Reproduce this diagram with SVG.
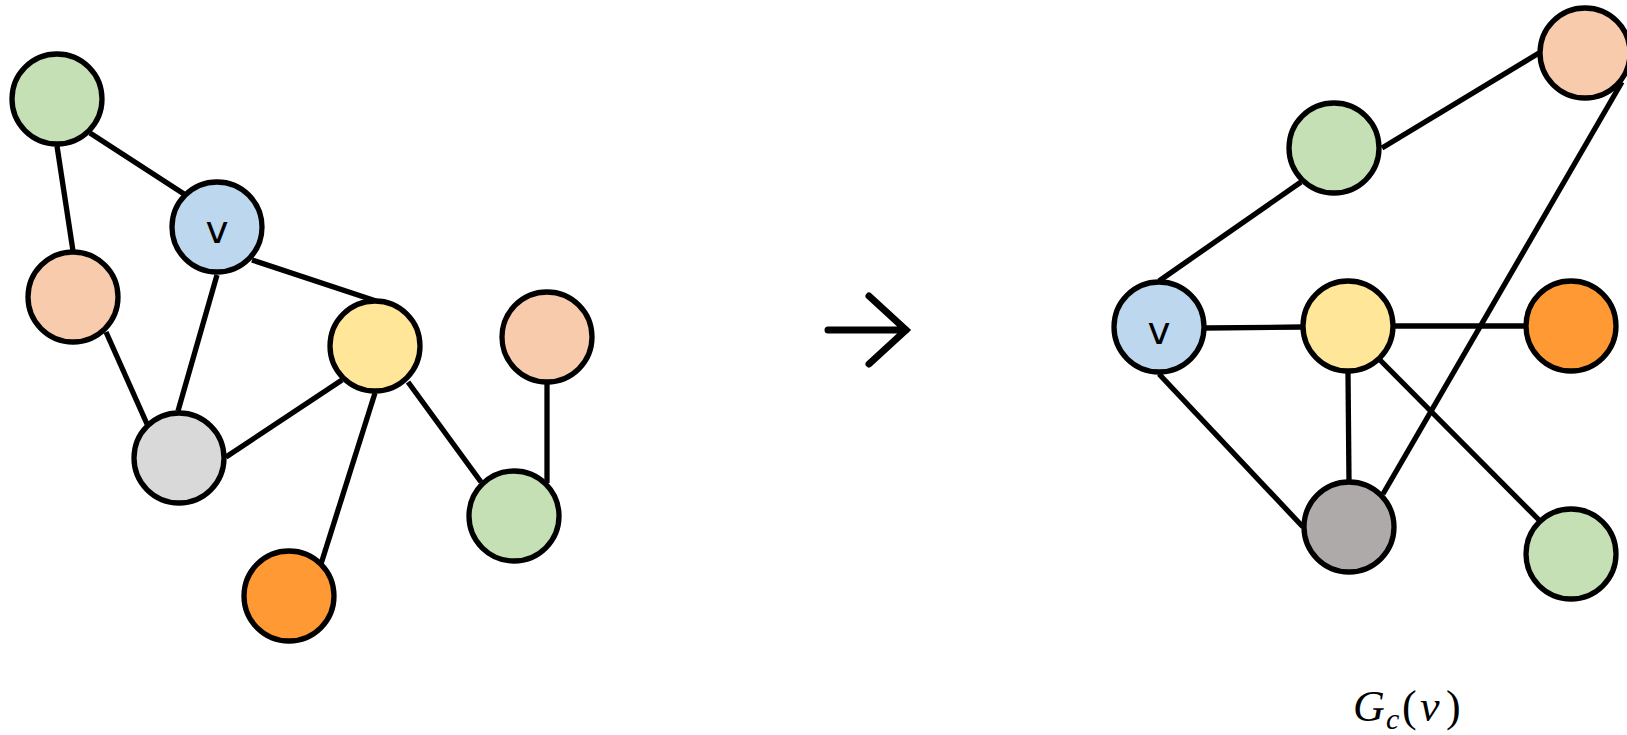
<svg xmlns="http://www.w3.org/2000/svg" width="1627" height="735" viewBox="0 0 1627 735">
  <style>
    .edge { stroke: #000; stroke-width: 5.3; fill: none; }
    .node { stroke: #000; stroke-width: 5.3; }
    .green { fill: #C5E0B4; }
    .blue { fill: #BDD7EE; }
    .salmon { fill: #F8CBAD; }
    .yellow { fill: #FFE699; }
    .lgray { fill: #D9D9D9; }
    .dgray { fill: #AEAAAA; }
    .orange { fill: #FF9933; }
    .lbl { font-family: "DejaVu Sans", sans-serif; font-size: 39px; fill: #000; text-anchor: middle; }
    .math { font-family: "Liberation Serif", serif; font-size: 44px; fill: #000; }
  </style>

  <!-- edges -->
  <g id="connectors">
    <!-- left graph -->
    <line class="edge" x1="90" y1="133" x2="184" y2="194"/>
    <line class="edge" x1="57" y1="146" x2="73" y2="251"/>
    <line class="edge" x1="252" y1="260" x2="376" y2="301"/>
    <line class="edge" x1="217" y1="275" x2="178" y2="411"/>
    <line class="edge" x1="106" y1="332" x2="147" y2="424"/>
    <line class="edge" x1="226" y1="457" x2="342" y2="380"/>
    <line class="edge" x1="375" y1="393" x2="321" y2="564"/>
    <line class="edge" x1="408" y1="382" x2="481" y2="482"/>
    <line class="edge" x1="547" y1="383" x2="547" y2="483"/>
    <!-- right graph -->
    <line class="edge" x1="1159" y1="281" x2="1301" y2="182"/>
    <line class="edge" x1="1382" y1="148" x2="1539" y2="53"/>
    <line class="edge" x1="1622" y1="82" x2="1383" y2="494"/>
    <line class="edge" x1="1205" y1="328" x2="1302" y2="327"/>
    <line class="edge" x1="1394" y1="326" x2="1525" y2="326"/>
    <line class="edge" x1="1159" y1="374" x2="1303" y2="527"/>
    <line class="edge" x1="1348" y1="372" x2="1349" y2="482"/>
    <line class="edge" x1="1380" y1="360" x2="1540" y2="521"/>
    <!-- transformation arrow -->
    <path d="M828 330 H906 M869 296 L906 330 L869 364" fill="none" stroke="#000" stroke-width="7" stroke-linecap="round" stroke-linejoin="miter"/>
  </g>

  <!-- left graph nodes -->
  <g id="l-green-top"><circle class="node green" cx="57" cy="99" r="45"/></g>
  <g id="l-v"><circle class="node blue" cx="217" cy="227" r="45"/><text class="lbl" x="217" y="243">v</text></g>
  <g id="l-salmon"><circle class="node salmon" cx="73" cy="297" r="45"/></g>
  <g id="l-yellow"><circle class="node yellow" cx="375" cy="346" r="45"/></g>
  <g id="l-salmon-right"><circle class="node salmon" cx="547" cy="337" r="45"/></g>
  <g id="l-gray"><circle class="node lgray" cx="179" cy="458" r="45"/></g>
  <g id="l-green-bottom"><circle class="node green" cx="514" cy="516" r="45"/></g>
  <g id="l-orange"><circle class="node orange" cx="289" cy="596" r="45"/></g>

  <!-- right graph nodes -->
  <g id="r-salmon"><circle class="node salmon" cx="1585" cy="53" r="45"/></g>
  <g id="r-green-top"><circle class="node green" cx="1334" cy="148" r="45"/></g>
  <g id="r-v"><circle class="node blue" cx="1159" cy="327" r="45"/><text class="lbl" x="1159" y="344">v</text></g>
  <g id="r-yellow"><circle class="node yellow" cx="1348" cy="326" r="45"/></g>
  <g id="r-orange"><circle class="node orange" cx="1571" cy="326" r="45"/></g>
  <g id="r-gray"><circle class="node dgray" cx="1349" cy="527" r="45"/></g>
  <g id="r-green-bottom"><circle class="node green" cx="1571" cy="554" r="45"/></g>

  <!-- caption: G_c(v) -->
  <g id="caption">
    <text class="math" y="721"><tspan x="1353" font-style="italic">G</tspan><tspan x="1386" y="729" font-size="30" font-style="italic">c</tspan><tspan x="1402" y="721">(</tspan><tspan x="1420" font-style="italic">v</tspan><tspan x="1446">)</tspan></text>
  </g>
</svg>
